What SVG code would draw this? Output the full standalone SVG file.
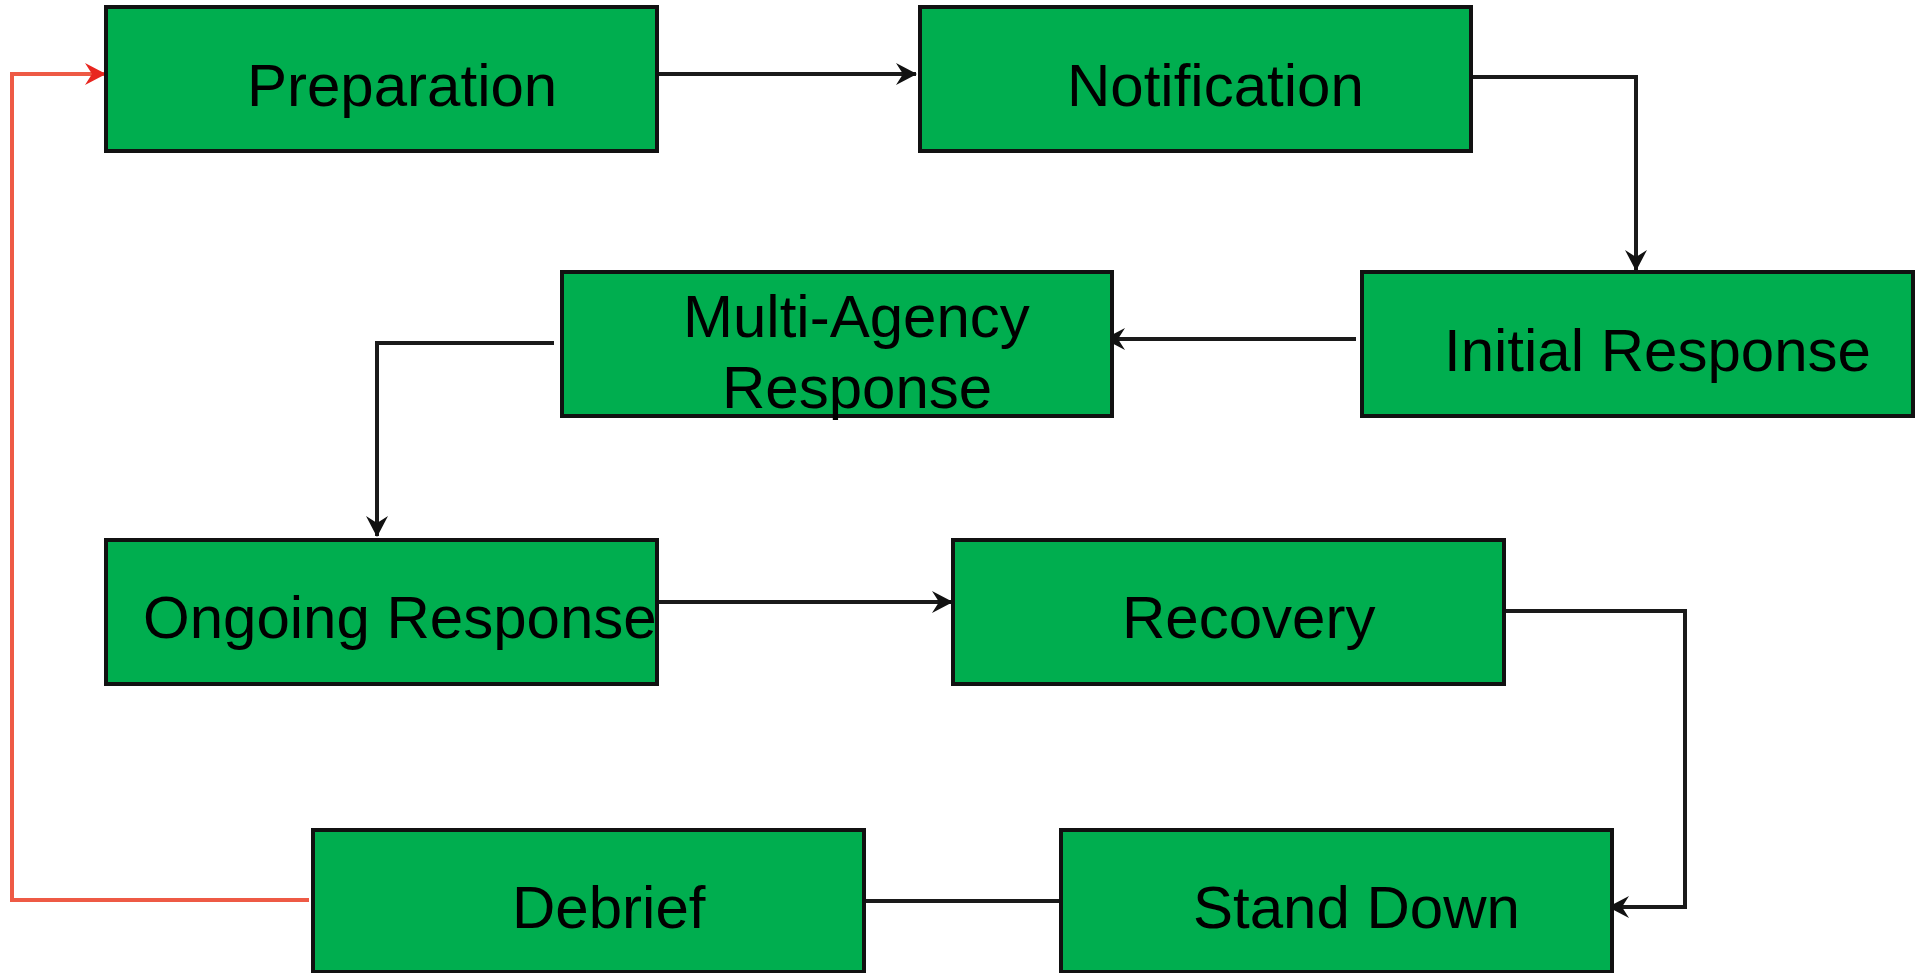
<svg xmlns="http://www.w3.org/2000/svg" width="1916" height="973" viewBox="0 0 1916 973">
<style>
.box{fill:#00AE4F;stroke:#111;stroke-width:4}
.lbl{font-family:"Liberation Sans",Arial,sans-serif;font-size:60px;fill:#000}
.conn{fill:none;stroke:#1a1a1a;stroke-width:4}
.red{fill:none;stroke:#EE5A45;stroke-width:4}
</style>
<defs>
<marker id="ah" markerUnits="userSpaceOnUse" markerWidth="26" markerHeight="24" refX="23" refY="11" orient="auto" viewBox="0 0 26 22">
<path d="M3,0 L24,11 L3,22 L10,11 z" fill="#111"/>
</marker>
<marker id="ahr" markerUnits="userSpaceOnUse" markerWidth="26" markerHeight="24" refX="23" refY="11" orient="auto" viewBox="0 0 26 22">
<path d="M3,0 L24,11 L3,22 L10,11 z" fill="#E8261F"/>
</marker>
</defs>
<rect width="1916" height="973" fill="#fff"/>
<g id="connectors">
<path class="conn" d="M657,74 H916" marker-end="url(#ah)"/>
<path class="conn" d="M1472,77 H1636 V270" marker-end="url(#ah)"/>
<path class="conn" d="M1356,339 H1105" marker-end="url(#ah)"/>
<path class="conn" d="M554,343 H377 V536" marker-end="url(#ah)"/>
<path class="conn" d="M657,602 H952" marker-end="url(#ah)"/>
<path class="conn" d="M1496,611 H1685 V907 H1609" marker-end="url(#ah)"/>
<path class="conn" d="M864,901 H1061"/>
<path class="red" d="M309,900 H12 V74 H105" marker-end="url(#ahr)"/>
</g>
<g id="preparation"><rect class="box" x="106" y="7" width="551" height="144"/><text class="lbl" x="247" y="106">Preparation</text></g>
<g id="notification"><rect class="box" x="920" y="7" width="551" height="144"/><text class="lbl" x="1067" y="106">Notification</text></g>
<g id="initial-response"><rect class="box" x="1362" y="272" width="551" height="144"/><text class="lbl" x="1444" y="371">Initial Response</text></g>
<g id="multi-agency"><rect class="box" x="562" y="272" width="550" height="144"/><text class="lbl" x="683" y="337">Multi-Agency</text><text class="lbl" x="722" y="408">Response</text></g>
<g id="ongoing-response"><rect class="box" x="106" y="540" width="551" height="144"/><text class="lbl" x="143" y="638">Ongoing Response</text></g>
<g id="recovery"><rect class="box" x="953" y="540" width="551" height="144"/><text class="lbl" x="1122" y="638">Recovery</text></g>
<g id="debrief"><rect class="box" x="313" y="830" width="551" height="142"/><text class="lbl" x="512" y="928">Debrief</text></g>
<g id="stand-down"><rect class="box" x="1061" y="830" width="551" height="142"/><text class="lbl" x="1193" y="928">Stand Down</text></g>
</svg>
